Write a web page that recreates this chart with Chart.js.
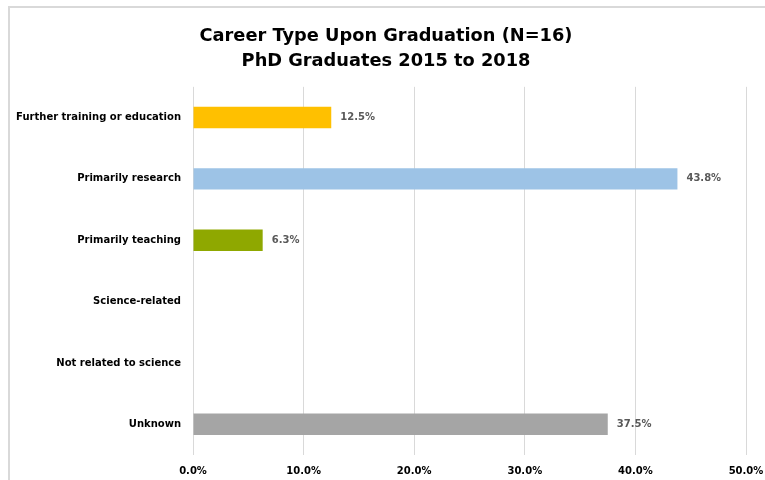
<!DOCTYPE html>
<html>
<head>
<meta charset="utf-8">
<script src="https://cdn.jsdelivr.net/npm/chart.js@4"></script>
<style>
    html, body { margin: 0; padding: 0; background: #fff; overflow: hidden; }
    #wrap { position: relative; width: 765px; height: 480px; }
    #frame { position: absolute; left: 8px; top: 6px; width: 800px; height: 520px; border: 2px solid #d9d9d9; }
    #chart { position: absolute; left: 0; top: 0; }
</style>
</head>
<body>
<div id="wrap">
    <div id="frame"></div>
    <canvas id="chart" width="765" height="480"></canvas>
</div>
<script>
// Career types and share of graduates (%)
const categories = [
    "Further training or education",
    "Primarily research",
    "Primarily teaching",
    "Science-related",
    "Not related to science",
    "Unknown"
];
const shares = [12.5, 43.8, 6.3, 0, 0, 37.5];
const barColors = ["#FFC000", "#9DC3E6", "#8FA800", "#A5A5A5", "#A5A5A5", "#A5A5A5"];
const xTicks = [0, 10, 20, 30, 40, 50];

const fontFamily = "'DejaVu Sans', sans-serif";

// Value labels at the end of each bar
const barLabels = {
    id: "barLabels",
    afterDatasetsDraw(chart) {
        const ctx = chart.ctx;
        const meta = chart.getDatasetMeta(0);
        ctx.save();
        ctx.font = "bold 10px " + fontFamily;
        ctx.fillStyle = "#595959";
        ctx.textAlign = "left";
        ctx.textBaseline = "middle";
        meta.data.forEach((bar, i) => {
            if (!shares[i]) return;
            ctx.fillText(shares[i].toFixed(1) + "%", bar.x + 9, bar.y);
        });
        ctx.restore();
    }
};

const ctx = document.getElementById("chart").getContext("2d");
new Chart(ctx, {
    type: "bar",
    data: {
        labels: categories,
        datasets: [{
            data: shares,
            backgroundColor: barColors,
            barPercentage: 0.35,
            categoryPercentage: 1.0
        }]
    },
    plugins: [barLabels],
    options: {
        indexAxis: "y",
        responsive: false,
        animation: false,
        layout: { padding: { left: 10, right: 3, top: 0, bottom: 0 } },
        plugins: {
            legend: { display: false },
            tooltip: { enabled: false },
            title: {
                display: true,
                text: ["Career Type Upon Graduation (N=16)", "PhD Graduates 2015 to 2018"],
                color: "#000",
                font: { family: fontFamily, size: 17.8, weight: "bold", lineHeight: 1.4 },
                padding: { top: 24, bottom: 13 }
            }
        },
        scales: {
            x: {
                min: 0,
                max: 50,
                afterBuildTicks(scale) {
                    scale.ticks = xTicks.map(v => ({ value: v }));
                },
                afterFit(scale) {
                    scale.height = 25;
                    scale.paddingLeft = 0;
                    scale.paddingRight = 19;
                },
                ticks: {
                    callback: v => v.toFixed(1) + "%",
                    color: "#000",
                    font: { family: fontFamily, size: 10, weight: "bold" },
                    padding: 10
                },
                grid: { color: "#d9d9d9", drawTicks: false },
                border: { display: false }
            },
            y: {
                afterFit(scale) { scale.width = 183; },
                ticks: {
                    color: "#000",
                    font: { family: fontFamily, size: 10, weight: "bold" },
                    padding: 12
                },
                grid: { display: false, drawTicks: false },
                border: { display: false }
            }
        }
    }
});
</script>
</body>
</html>
